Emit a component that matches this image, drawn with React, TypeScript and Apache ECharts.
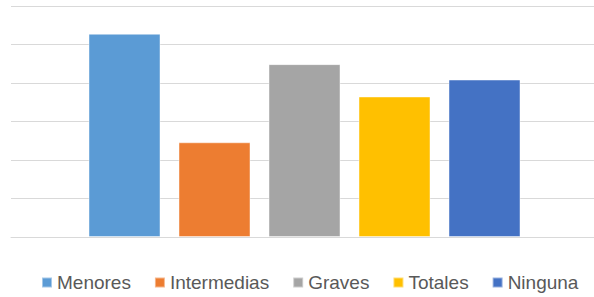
import React, { useEffect, useRef } from "react";
import * as echarts from "echarts";

const seriesNames = ["Menores", "Intermedias", "Graves", "Totales", "Ninguna"];
const seriesValues = [5.28, 2.46, 4.49, 3.65, 4.09];
const seriesColors = ["#5B9BD5", "#ED7D31", "#A5A5A5", "#FFC000", "#4472C4"];
const categories = [""];

export default function App() {
  const ref = useRef<HTMLDivElement>(null);
  useEffect(() => {
    document.body.style.margin = "0";
    const chart = echarts.init(ref.current!, null, { renderer: "svg" });
    chart.setOption({
      animation: false,
      backgroundColor: "#ffffff",
      grid: [
        { left: 11, right: 0, top: 6, bottom: 60, containLabel: false },
        { left: 15, right: 0, top: 6, bottom: 60, containLabel: false },
      ],
      legend: {
        data: seriesNames,
        left: 36,
        top: 268,
        itemWidth: 10,
        itemHeight: 10,
        itemGap: 23,
        icon: "rect",
        textStyle: { fontSize: 19, color: "#595959", fontFamily: "Liberation Sans" },
      },
      xAxis: [
        {
          type: "category",
          gridIndex: 0,
          data: categories,
          axisLine: { show: true, lineStyle: { color: "#D9D9D9", width: 1 } },
          axisTick: { show: false },
          axisLabel: { show: false },
        },
        {
          type: "category",
          gridIndex: 1,
          data: categories,
          axisLine: { show: false },
          axisTick: { show: false },
          axisLabel: { show: false },
        },
      ],
      yAxis: [
        {
          type: "value",
          gridIndex: 0,
          min: 0,
          max: 6,
          interval: 1,
          axisLabel: { show: false },
          axisLine: { show: false },
          axisTick: { show: false },
          splitLine: { lineStyle: { color: "#D9D9D9", width: 1 } },
        },
        {
          type: "value",
          gridIndex: 1,
          min: 0,
          max: 6,
          interval: 1,
          axisLabel: { show: false },
          axisLine: { show: false },
          axisTick: { show: false },
          splitLine: { show: false },
        },
      ],
      series: seriesNames.map((name, i) => ({
        name,
        type: "bar",
        xAxisIndex: 1,
        yAxisIndex: 1,
        data: [seriesValues[i]],
        barWidth: 72,
        barGap: "25%",
        itemStyle: {
          color: seriesColors[i],
          borderColor: "rgba(255,255,255,0.45)",
          borderWidth: 1,
        },
      })),
    });
    return () => chart.dispose();
  }, []);
  return <div ref={ref} style={{ width: 594, height: 297 }} />;
}
